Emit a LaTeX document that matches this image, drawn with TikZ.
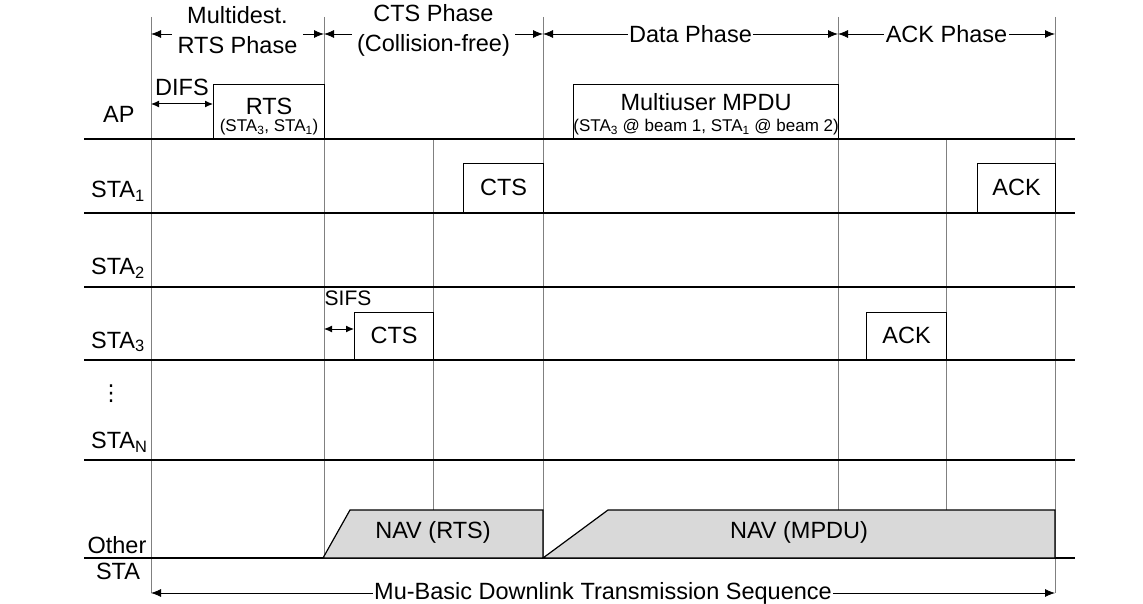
\documentclass[tikz,border=0pt]{standalone}
\usepackage{fontspec}
\setmainfont{Liberation Sans}
\newfontfamily\symfont{DejaVu Sans}
\usetikzlibrary{arrows.meta}
\usetikzlibrary{positioning}
\newcommand{\bigtxt}{\fontsize{23.5}{27}\selectfont}
\newcommand{\smalltxt}{\fontsize{17}{20}\selectfont}
\tikzset{
    tline/.style = {gray, line width=0.9pt},
    rowline/.style = {black, line width=1.2pt},
    pkt/.style = {rectangle, draw=black, line width=1.2pt, fill=white, anchor=south west, inner sep=0pt, align=center, font=\bigtxt},
    nav/.style = {draw=black, line width=1.2pt, fill=gray!30},
    lbl/.style = {anchor=west, inner sep=0pt, font=\bigtxt},
    txt/.style = {inner sep=0pt, font=\bigtxt},
    sub/.style = {inner sep=0pt, font=\smalltxt},
    phase/.style = {fill=white, inner sep=1.5pt, align=center, font=\fontsize{23.5}{30}\selectfont},
    phasearrow/.style = {{Latex[length=10pt,width=8pt]}-{Latex[length=10pt,width=8pt]}, line width=0.8pt},
    ifsarrow/.style = {{Latex[length=8pt,width=7pt]}-{Latex[length=8pt,width=7pt]}, line width=1pt}
}
\begin{document}
\begin{tikzpicture}[x=1pt,y=-1pt]
%
\path[use as bounding box] (0,0) rectangle (1143,604);
%
\foreach \x/\ya/\yb in {151/17/593,324/17/558,433/139/510,543/17/558,838/17/510,946/139/510,1055/17/593}
  \draw[tline] (\x,\ya) -- (\x,\yb);
\foreach \y in {139,213,287,360,460,558}
  \draw[rowline] (84,\y) -- (1075,\y);
%
\node[lbl] at (103,114) (ap) {AP};
\node[lbl] at (91,191) (sta1) {STA\textsubscript{1}};
\node[lbl] at (91,268) (sta2) {STA\textsubscript{2}};
\node[lbl] at (91,342) (sta3) {STA\textsubscript{3}};
\node[txt, font=\symfont\fontsize{22}{24}\selectfont] at (111,394) (dots) {⋮};
\node[lbl] at (91,442) (stan) {STA\textsubscript{N}};
\node[txt] at (117,545) (other) {Other};
\node[txt] at (118,571) (otsta) {STA};
%
\coordinate (p0) at (151,34);
\coordinate (p1) at (324,34);
\coordinate (p2) at (543,34);
\coordinate (p3) at (838,34);
\coordinate (p4) at (1055,34);
\draw[phasearrow] (p0) -- (p1) node[phase, midway, yshift=4pt, inner sep=6pt] (ph1) {Multidest.\\RTS Phase};
\draw[phasearrow] (p1) -- (p2) node[phase, midway, yshift=4pt, inner sep=5pt] (ph2) {CTS Phase\\(Collision-free)};
\draw[phasearrow] (p2) -- (p3) node[phase, midway] (ph3) {Data Phase};
\draw[phasearrow] (p3) -- (p4) node[phase, midway] (ph4) {ACK Phase};
%
\node[pkt, minimum width=111pt, minimum height=54pt] at (213,139) (rts) {};
\node[txt] at ([yshift=5pt]rts.center) (rtsname) {RTS};
\node[sub] at ([yshift=-16pt]rts.center) (rtsdest) {(STA\textsubscript{3}, STA\textsubscript{1})};
\node[pkt, minimum width=265pt, minimum height=54pt] at (573,139) (mpdu) {};
\node[txt] at ([yshift=9pt]mpdu.center) (mpduname) {Multiuser MPDU};
\node[sub] at ([yshift=-16pt]mpdu.center) (mpdudest) {(STA\textsubscript{3} @ beam 1, STA\textsubscript{1} @ beam 2)};
\node[pkt, minimum width=80pt, minimum height=49pt] at (463,213) (cts1) {CTS};
\node[pkt, minimum width=78pt, minimum height=49pt] at (977,213) (ack1) {ACK};
\node[pkt, minimum width=79pt, minimum height=47pt] at (354,360) (cts3) {CTS};
\node[pkt, minimum width=80pt, minimum height=47pt] at (866,360) (ack3) {ACK};
%
\coordinate (d0) at (151,104);
\draw[ifsarrow] (d0) -- (rts.west |- d0);
\node[txt] at (182,87) (difs) {DIFS};
\coordinate (s0) at (324,329);
\draw[ifsarrow] (s0) -- (cts3.west |- s0);
\node[txt, font=\fontsize{21}{25}\selectfont] at (348,298) (sifs) {SIFS};
%
\draw[nav] (323,558) -- (350,510) -- (543,510) -- (543,558) -- cycle;
\draw[nav] (543,558) -- (608,510) -- (1055,510) -- (1055,558) -- cycle;
\node[txt] at (433,532) (navrts) {NAV (RTS)};
\node[txt] at (799,532) (navmpdu) {NAV (MPDU)};
%
\coordinate (q0) at (151,593);
\coordinate (q1) at (1055,593);
\draw[phasearrow] (q0) -- (q1) node[phase, midway] (seq) {Mu-Basic Downlink Transmission Sequence};

\end{tikzpicture}
\end{document}
